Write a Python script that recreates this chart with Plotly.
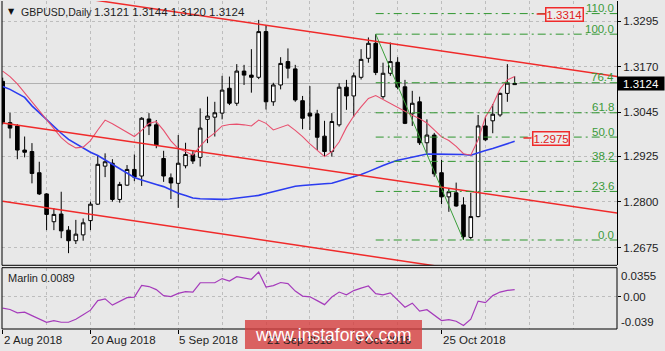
import plotly.graph_objects as go

# ---------------- data ----------------
open_ = [1.3130, 1.3017, 1.3008, 1.2942, 1.2938, 1.2880, 1.2822, 1.2746, 1.2767, 1.2723,
         1.2694, 1.2710, 1.2749, 1.2794, 1.2898, 1.2906, 1.2807, 1.2846, 1.2889, 1.2871,
         1.3027, 1.3011, 1.2919, 1.2866, 1.2851, 1.2899, 1.2930, 1.2922, 1.3026, 1.3032,
         1.3043, 1.3111, 1.3070, 1.3158, 1.3147, 1.3141, 1.3266, 1.3074, 1.3120, 1.3184,
         1.3164, 1.3077, 1.3043, 1.3041, 1.2980, 1.2938, 1.3011, 1.3114, 1.3090, 1.3141,
         1.3193, 1.3234, 1.3088, 1.3152, 1.3182, 1.3115, 1.3041, 1.3074, 1.2962, 1.2983,
         1.2880, 1.2814, 1.2825, 1.2792, 1.2703, 1.2760, 1.3008, 1.3022, 1.3038, 1.3097,
         1.3121]
high = [1.3140, 1.3044, 1.3013, 1.2979, 1.2961, 1.2910, 1.2824, 1.2783, 1.2828, 1.2734,
        1.2751, 1.2755, 1.2801, 1.2928, 1.2933, 1.2917, 1.2855, 1.2901, 1.2930, 1.3032,
        1.3043, 1.3024, 1.2940, 1.2878, 1.2983, 1.2962, 1.2942, 1.3056, 1.3088, 1.3074,
        1.3145, 1.3143, 1.3177, 1.3175, 1.3218, 1.3298, 1.3284, 1.3126, 1.3196, 1.3220,
        1.3175, 1.3090, 1.3117, 1.3052, 1.3022, 1.3043, 1.3125, 1.3134, 1.3154, 1.3218,
        1.3250, 1.3259, 1.3181, 1.3236, 1.3196, 1.3134, 1.3104, 1.3088, 1.3026, 1.2989,
        1.2915, 1.2837, 1.2853, 1.2813, 1.2825, 1.3038, 1.3033, 1.3068, 1.3099, 1.3177,
        1.3144]
low = [1.3012, 1.2974, 1.2917, 1.2922, 1.2851, 1.2819, 1.2723, 1.2723, 1.2701, 1.2660,
       1.2685, 1.2694, 1.2723, 1.2792, 1.2868, 1.2801, 1.2798, 1.2844, 1.2857, 1.2844,
       1.2983, 1.2947, 1.2855, 1.2808, 1.2784, 1.2892, 1.2904, 1.2897, 1.2961, 1.2979,
       1.3026, 1.3065, 1.3063, 1.3120, 1.3099, 1.3136, 1.3053, 1.3063, 1.3108, 1.3138,
       1.3074, 1.2999, 1.2997, 1.2942, 1.2924, 1.2924, 1.3006, 1.3052, 1.3033, 1.3135,
       1.3181, 1.3147, 1.3082, 1.3145, 1.3108, 1.3013, 1.3008, 1.2956, 1.2933, 1.2869,
       1.2794, 1.2773, 1.2787, 1.2696, 1.2698, 1.2758, 1.2967, 1.2988, 1.3033, 1.3074,
       1.3120]
close_ = [1.3018, 1.3002, 1.2942, 1.2936, 1.2878, 1.2822, 1.2766, 1.2766, 1.2721, 1.2694,
          1.2712, 1.2743, 1.2794, 1.2903, 1.2910, 1.2807, 1.2848, 1.2889, 1.2868, 1.3029,
          1.3008, 1.2956, 1.2871, 1.2852, 1.2906, 1.2930, 1.2912, 1.3002, 1.3035, 1.3044,
          1.3106, 1.3070, 1.3158, 1.3147, 1.3141, 1.3266, 1.3074, 1.3120, 1.3179, 1.3166,
          1.3079, 1.3029, 1.3035, 1.2977, 1.2938, 1.3020, 1.3114, 1.3090, 1.3145, 1.3190,
          1.3234, 1.3154, 1.3152, 1.3184, 1.3114, 1.3015, 1.3070, 1.2962, 1.2983, 1.2877,
          1.2814, 1.2828, 1.2789, 1.2705, 1.2760, 1.3008, 1.2970, 1.3040, 1.3097, 1.3125,
          1.3124]

ma_slow = [1.3116, 1.3108, 1.3097, 1.3086, 1.3063, 1.3044, 1.3024, 1.3006, 1.2988, 1.2971,
           1.2959, 1.2947, 1.2936, 1.2927, 1.2915, 1.2904, 1.2891, 1.2878, 1.2867, 1.2860,
           1.2853, 1.2848, 1.2842, 1.2833, 1.2824, 1.2818, 1.2811, 1.2809, 1.2808, 1.2807,
           1.2807, 1.2808, 1.2810, 1.2812, 1.2815, 1.2818, 1.2823, 1.2828, 1.2834, 1.2839,
           1.2843, 1.2845, 1.2847, 1.2848, 1.2850, 1.2851, 1.2857, 1.2863, 1.2868, 1.2875,
           1.2883, 1.2892, 1.2900, 1.2907, 1.2914, 1.2918, 1.2922, 1.2925, 1.2931, 1.2931,
           1.2931, 1.2931, 1.2931, 1.2930, 1.2928, 1.2935, 1.2941, 1.2946, 1.2952, 1.2959,
           1.2966]
ma_fast = [1.3158, 1.3143, 1.3123, 1.3098, 1.3074, 1.3050, 1.3023, 1.2999, 1.2976, 1.2959,
           1.2948, 1.2950, 1.2968, 1.2997, 1.3024, 1.3014, 1.3002, 1.2989, 1.2979, 1.2996,
           1.3015, 1.3020, 1.2996, 1.2967, 1.2946, 1.2938, 1.2928, 1.2953, 1.2974, 1.2989,
           1.3008, 1.3012, 1.3013, 1.3011, 1.3008, 1.3024, 1.3015, 1.2997, 1.3004, 1.3011,
           1.2996, 1.2979, 1.2959, 1.2941, 1.2924, 1.2938, 1.2964, 1.3004, 1.3035, 1.3060,
           1.3083, 1.3091, 1.3080, 1.3071, 1.3060, 1.3047, 1.3037, 1.3028, 1.3016, 1.2997,
           1.2978, 1.2968, 1.2952, 1.2932, 1.2928, 1.2970, 1.3032, 1.3066, 1.3109, 1.3134,
           1.3143]
marlin = [-0.0137, -0.0153, -0.0194, -0.0186, -0.0228, -0.0271, -0.0308, -0.0289, -0.0308, -0.0308,
          -0.0271, -0.0216, -0.0161, -0.0045, -0.0023, -0.0100, -0.0057, -0.0009, -0.0002, 0.0140,
          0.0126, 0.0089, 0.0016, 0.0004, 0.0043, 0.0065, 0.0059, 0.0172, 0.0172, 0.0172,
          0.0223, 0.0193, 0.0245, 0.0230, 0.0214, 0.0303, 0.0120, 0.0138, 0.0175, 0.0161,
          0.0071, 0.0010, 0.0001, -0.0045, -0.0094, -0.0002, 0.0059, 0.0026, 0.0077, 0.0107,
          0.0132, 0.0040, 0.0026, 0.0049, -0.0033, -0.0125, -0.0076, -0.0173, -0.0155, -0.0222,
          -0.0287, -0.0276, -0.0296, -0.0348, -0.0271, -0.0051, -0.0070, 0.0016, 0.0059, 0.0079,
          0.0089]

# channel trend lines: (bar index, price) at both ends
channel_x = [0, 84]
channel_upper = [1.3389, 1.3143]
channel_mid = [1.3016, 1.2770]
channel_low = [1.2802, 1.2551]

# fibonacci retracement anchors
fib_high_bar, fib_high = 51, 1.3259
fib_low_bar, fib_low = 63, 1.2696
fib_levels = [0.0, 23.6, 38.2, 50.0, 61.8, 76.4, 100.0, 110.0]

# manual price marks
mark_prices = [1.3314, 1.2975]
mark_texts = ["1.3314", "1.2975"]

# axis labels
price_ticks = [1.3295, 1.3170, 1.3045, 1.2925, 1.2800, 1.2675]
price_ticktext = ["1.3295", "1.3170", "1.3045", "1.2925", "1.2800", "1.2675"]
date_bars = [0, 12, 24, 36, 48, 60]
date_labels = ["2 Aug 2018", "20 Aug 2018", "5 Sep 2018", "21 Sep 2018", "9 Oct 2018", "25 Oct 2018"]
marlin_top, marlin_bottom = 0.0355, -0.039

# ---------------- styling ----------------
BG = "#e8e8e8"
GRID = "#bdbdbd"
FONT = "Liberation Sans"
TXT = "#1e1e1e"
RED = "#f02a2a"
GREEN = "#2f962f"

n = len(close_)
idx = list(range(n))
x_range = [-0.096, 83.99]

fig = go.Figure()

fig.add_trace(go.Candlestick(
    x=idx, open=open_, high=high, low=low, close=close_,
    increasing=dict(line=dict(color="#000000", width=1), fillcolor="#ffffff"),
    decreasing=dict(line=dict(color="#000000", width=1), fillcolor="#000000"),
    whiskerwidth=0, xaxis="x", yaxis="y", showlegend=False, hoverinfo="skip"))

fig.add_trace(go.Scatter(x=idx, y=ma_slow, mode="lines", line=dict(color="#2b3cf0", width=1.6),
                         xaxis="x", yaxis="y", hoverinfo="skip"))
fig.add_trace(go.Scatter(x=idx, y=ma_fast, mode="lines", line=dict(color="#e8506e", width=1.1),
                         xaxis="x", yaxis="y", hoverinfo="skip"))

for ys in (channel_upper, channel_mid, channel_low):
    fig.add_trace(go.Scatter(x=channel_x, y=ys, mode="lines", line=dict(color=RED, width=1.5),
                             xaxis="x", yaxis="y", hoverinfo="skip"))

# fibonacci
fib_prices = [fib_low + (fib_high - fib_low) * lv / 100.0 for lv in fib_levels]
for lv, p in zip(fib_levels, fib_prices):
    fig.add_trace(go.Scatter(x=[fib_high_bar, x_range[1] + 1], y=[p, p], mode="lines",
                             line=dict(color=GREEN, width=1, dash="8px,4px,2px,4px"),
                             xaxis="x", yaxis="y", hoverinfo="skip"))
fig.add_trace(go.Scatter(x=[fib_high_bar, fib_low_bar], y=[fib_high, fib_low], mode="lines",
                         line=dict(color="#3a9e3a", width=1), xaxis="x", yaxis="y", hoverinfo="skip"))

# price mark leader lines
mark_line_x = [[73.0, 74.2], [71.2, 72.3]]
for lx, p in zip(mark_line_x, mark_prices):
    fig.add_trace(go.Scatter(x=lx, y=[p, p], mode="lines", line=dict(color=RED, width=1.5),
                             xaxis="x", yaxis="y", hoverinfo="skip"))

# indicator
fig.add_trace(go.Scatter(x=idx, y=marlin, mode="lines", line=dict(color="#a53bbb", width=1.2),
                         xaxis="x", yaxis="y2", hoverinfo="skip"))

main_dom = [0.1942, 1.0]
ind_dom = [0.0, 0.1869]

fig.update_layout(
    width=665, height=351,
    margin=dict(l=2, r=48, t=1, b=22),
    paper_bgcolor=BG, plot_bgcolor=BG,
    showlegend=False,
    font=dict(family=FONT, size=11.5, color=TXT),
    xaxis=dict(domain=[0, 1], range=x_range, anchor="y2",
               tickmode="array", tickvals=date_bars, showticklabels=False,
               ticks="outside", ticklen=4, tickcolor="#000000",
               showgrid=True, gridcolor=GRID, griddash="dot", gridwidth=1,
               minor=dict(tickmode="array", tickvals=[6, 18, 30, 42, 54, 66, 72, 78],
                          showgrid=True, gridcolor=GRID, griddash="dot", gridwidth=1, ticks=""),
               zeroline=False, showline=False, rangeslider=dict(visible=False)),
    yaxis=dict(domain=main_dom, range=[1.26268, 1.33497], side="right", anchor="x",
               tickmode="array", tickvals=price_ticks, ticktext=price_ticktext,
               ticks="outside", ticklen=3, tickcolor="#000000",
               tickfont=dict(family=FONT, size=11.5, color=TXT),
               showgrid=True, gridcolor=GRID, griddash="dot", gridwidth=1,
               showline=True, linecolor="#000000", linewidth=1, zeroline=False),
    yaxis2=dict(domain=ind_dom, range=[marlin_bottom, marlin_top], side="right", anchor="x",
                tickmode="array", tickvals=[0], ticktext=["0.00"],
                ticks="outside", ticklen=3, tickcolor="#000000",
                tickfont=dict(family=FONT, size=11.5, color=TXT),
                showgrid=True, gridcolor=GRID, griddash="dot", gridwidth=1,
                showline=False, zeroline=False),
)

shapes = [
    # main panel borders (left, bottom)
    dict(type="line", xref="x domain", yref="y domain", x0=0, x1=0, y0=0, y1=1,
         line=dict(color="#000000", width=1), layer="above"),
    dict(type="line", xref="x domain", yref="y domain", x0=0, x1=1, y0=0, y1=0,
         line=dict(color="#000000", width=1), layer="above"),
    # indicator panel border
    dict(type="rect", xref="x domain", yref="y2 domain", x0=0, x1=1, y0=0, y1=1,
         line=dict(color="#000000", width=1), layer="above"),
    # bid line
    dict(type="line", xref="x domain", yref="y", x0=0, x1=1, y0=close_[-1], y1=close_[-1],
         line=dict(color="#b0b0b0", width=1), layer="below"),
    # watermark box
    dict(type="rect", xref="paper", yref="paper", x0=0.3951, x1=0.6829, y0=-0.061, y1=0.0274,
         fillcolor="rgba(214,62,62,0.80)", line=dict(width=0), layer="above"),
]
fig.update_layout(shapes=shapes)

ann = []
# title
ann.append(dict(xref="paper", yref="paper", x=0.0065, y=0.9675, xanchor="left", yanchor="middle",
                text="▼", showarrow=False, font=dict(family="DejaVu Sans", size=8, color="#111111")))
ann.append(dict(xref="paper", yref="paper", x=0.0276, y=0.9675, xanchor="left", yanchor="middle",
                text="GBPUSD,Daily", showarrow=False, font=dict(family=FONT, size=10.5, color=TXT)))
ann.append(dict(xref="paper", yref="paper", x=0.1463, y=0.9675, xanchor="left", yanchor="middle",
                text=f"{open_[-1]:.4f} {high[-1]:.4f} {low[-1]:.4f} {close_[-1]:.4f}",
                showarrow=False, font=dict(family=FONT, size=11.5, color=TXT)))
# indicator caption
ann.append(dict(xref="paper", yref="paper", x=0.0070, y=0.1564, xanchor="left", yanchor="middle",
                text=f"Marlin {marlin[-1]:.4f}", showarrow=False,
                font=dict(family=FONT, size=11, color=TXT)))
# indicator scale extremes
ann.append(dict(xref="paper", yref="paper", x=1.0, y=0.1607, xanchor="left", yanchor="middle",
                xshift=2, text=f"{marlin_top:.4f}", showarrow=False,
                font=dict(family=FONT, size=11.5, color=TXT)))
ann.append(dict(xref="paper", yref="paper", x=1.0, y=0.0213, xanchor="left", yanchor="middle",
                xshift=2, text=f"{marlin_bottom:.3f}", showarrow=False,
                font=dict(family=FONT, size=11.5, color=TXT)))
# date labels
for b, t in zip(date_bars, date_labels):
    ann.append(dict(xref="x", yref="paper", x=b, y=-0.0335, xanchor="left", yanchor="middle",
                    xshift=-1, text=t, showarrow=False, font=dict(family=FONT, size=11.5, color=TXT)))
# current price box
ann.append(dict(xref="paper", yref="y", x=1.0, y=close_[-1], xanchor="left", yanchor="middle",
                text=f"{close_[-1]:.4f}", showarrow=False, bgcolor="#000000", width=44, height=11,
                borderpad=1, align="center", font=dict(family=FONT, size=11.5, color="#ffffff")))
# fib labels
for lv, p in zip(fib_levels, fib_prices):
    ann.append(dict(xref="paper", yref="y", x=0.9984, y=p, xanchor="right", yanchor="bottom",
                    yshift=-2.5, text=f"{lv:.1f}", showarrow=False,
                    font=dict(family=FONT, size=11.5, color="#3a9a3a")))
# red price marks
for lx, p, t in zip(mark_line_x, mark_prices, mark_texts):
    ann.append(dict(xref="x", yref="y", x=lx[1], y=p, xanchor="left", yanchor="middle",
                    text=t, showarrow=False, bgcolor="#ececec", bordercolor=RED, borderwidth=1.5,
                    borderpad=0, font=dict(family=FONT, size=11.5, color="#e02020")))
# watermark
ann.append(dict(xref="paper", yref="paper", x=0.539, y=-0.0168, xanchor="center", yanchor="middle",
                text="www.instaforex.com", showarrow=False,
                font=dict(family=FONT, size=17.5, color="#ffffff")))
fig.update_layout(annotations=ann)

fig.write_html("out.html")
